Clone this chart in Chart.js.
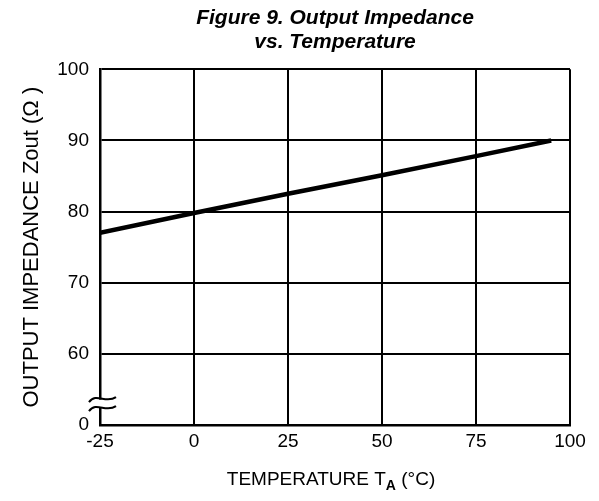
<!DOCTYPE html>
<html lang="en">
<head>
    <meta charset="UTF-8">
    <title>Figure 9. Output Impedance vs. Temperature</title>
    <script src="https://cdn.jsdelivr.net/npm/chart.js"></script>
    <style>
        body {
            margin: 0;
            padding: 0;
            background-color: #fff;
        }
        #grafico {
            display: block;
        }
    </style>
</head>
<body>
    <canvas id="grafico" width="599" height="501"></canvas>

    <script>
        // Dati
        const temperature = [-25, 0, 25, 50, 75, 95];          // °C
        const impedenza = [77, 79.8, 82.5, 85.1, 87.8, 90];    // ohm
        const tickX = [-25, 0, 25, 50, 75, 100];
        const tickY = [50, 60, 70, 80, 90, 100];               // 50 viene mostrato come "0" (asse interrotto)

        const FONT = "'Liberation Sans', Arial, sans-serif";

        // Titolo asse X con pedice + simbolo di interruzione sull'asse Y
        const decorazioni = {
            id: 'decorazioni',
            afterDraw(chart) {
                const c = chart.ctx;
                const area = chart.chartArea;
                const sy = chart.scales.y;

                // simbolo di interruzione
                const yb = sy.getPixelForValue(53);
                const xb = area.left;
                c.save();
                c.fillStyle = '#fff';
                c.fillRect(xb - 3, yb - 4, 6, 8);
                c.strokeStyle = '#000';
                c.lineWidth = 2;
                for (const dy of [-4.5, 4.5]) {
                    c.beginPath();
                    c.moveTo(xb - 11, yb + dy + 3);
                    c.bezierCurveTo(xb - 4, yb + dy - 7, xb + 6, yb + dy + 5, xb + 16, yb + dy - 2);
                    c.stroke();
                }
                c.restore();

                // titolo asse X: TEMPERATURE T_A (°C)
                c.save();
                c.fillStyle = '#000';
                c.textBaseline = 'alphabetic';
                const big = '19px ' + FONT;
                const small = 'bold 14px ' + FONT;
                const parti = [['TEMPERATURE T', big, 0], ['A', small, 5], [' (°C)', big, 0]];
                let larghezza = 0;
                for (const p of parti) { c.font = p[1]; larghezza += c.measureText(p[0]).width; }
                let x = (area.left + area.right) / 2 - larghezza / 2 - 4;
                const yb2 = 485;
                for (const p of parti) {
                    c.font = p[1];
                    c.fillText(p[0], x, yb2 + p[2]);
                    x += c.measureText(p[0]).width;
                }
                c.restore();
            }
        };

        const ctx = document.getElementById('grafico').getContext('2d');
        const chart = new Chart(ctx, {
            type: 'line',
            data: {
                datasets: [{
                    data: temperature.map((t, i) => ({ x: t, y: impedenza[i] })),
                    borderColor: '#000',
                    borderWidth: 4.5,
                    pointRadius: 0,
                    fill: false,
                    tension: 0
                }]
            },
            options: {
                responsive: false,
                animation: false,
                layout: { padding: { left: 0, right: 29, top: 0, bottom: 0 } },
                plugins: {
                    legend: { display: false },
                    tooltip: { enabled: false },
                    title: {
                        display: true,
                        fullSize: false,
                        text: ['Figure 9. Output Impedance', 'vs. Temperature'],
                        color: '#000',
                        font: { family: FONT, size: 21, weight: 'bold', style: 'italic', lineHeight: 1.15 },
                        padding: { top: 6, bottom: 15 }
                    }
                },
                scales: {
                    x: {
                        type: 'linear',
                        min: -25,
                        max: 100,
                        afterBuildTicks: s => { s.ticks = tickX.map(v => ({ value: v })); },
                        afterFit: s => { s.height = 76; },
                        grid: { color: '#000', lineWidth: 2, drawTicks: false },
                        border: { color: '#000', width: 2.5 },
                        ticks: { color: '#000', font: { family: FONT, size: 19 }, padding: 5, maxRotation: 0 }
                    },
                    y: {
                        type: 'linear',
                        min: 50,
                        max: 100,
                        afterBuildTicks: s => { s.ticks = tickY.map(v => ({ value: v })); },
                        afterFit: s => { s.width = 100; },
                        grid: { color: '#000', lineWidth: 2, drawTicks: false },
                        border: { color: '#000', width: 2.5 },
                        ticks: {
                            color: '#000',
                            font: { family: FONT, size: 19 },
                            padding: 11,
                            callback: v => (v === 50 ? '0' : v)
                        },
                        title: {
                            display: true,
                            text: 'OUTPUT IMPEDANCE Zout (Ω )',
                            color: '#000',
                            font: { family: FONT, size: 22 },
                            padding: { top: 19, bottom: 0 }
                        }
                    }
                }
            },
            plugins: [decorazioni]
        });
    </script>
</body>
</html>
